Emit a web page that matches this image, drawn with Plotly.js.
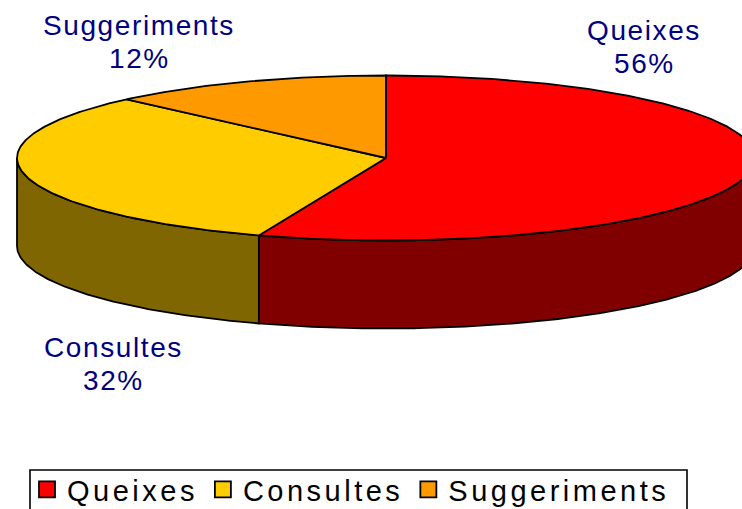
<!DOCTYPE html>
<html><head><meta charset="utf-8">
<script src="https://cdn.plot.ly/plotly-3.0.1.min.js"></script>
<style>
html,body{margin:0;padding:0;background:#fff;overflow:hidden}
#c{width:742px;height:509px}
.legendtext{letter-spacing:3.5px}
.annotation-text{letter-spacing:1.6px}
</style></head><body><div id="c"></div>
<script>
const categories = ['Queixes','Consultes','Suggeriments'];
const values = [55.6, 32.0, 12.4];
const topColors = ['#FF0000','#FFCC00','#FF9900'];
const sideColors = ['#800000','#806600','#804D00'];
const labelX = [644,113,139];
const nameY = [30,347,25];
const pctY = [63,380,58];

const cx=386, cy=158, rx=369, ry=82.5, depth=88;
const total = values.reduce((a,b)=>a+b,0);
const px = t => cx + rx*Math.sin(t);
const py = t => cy - ry*Math.cos(t);
function arc(a,b){const n=Math.max(2,Math.ceil((b-a)/0.01));const r=[];for(let i=0;i<=n;i++)r.push(a+(b-a)*i/n);return r;}
const line={color:'#000',width:1.8};
const traces=[];
let start=0;
const spans=values.map(v=>{const a=start;start+=v/total*2*Math.PI;return [a,start];});
spans.forEach(([a,b],i)=>{
  const lo=Math.max(a,Math.PI/2), hi=Math.min(b,3*Math.PI/2);
  if(hi<=lo) return;
  const t=arc(lo,hi);
  traces.push({x:t.map(px).concat(t.slice().reverse().map(px),[px(t[0])]),
    y:t.map(py).concat(t.slice().reverse().map(v=>py(v)+depth),[py(t[0])]),
    mode:'lines',fill:'toself',fillcolor:sideColors[i],line:line,showlegend:false,hoverinfo:'skip'});
});
spans.forEach(([a,b],i)=>{
  const t=arc(a,b);
  traces.push({x:[cx].concat(t.map(px),[cx]),y:[cy].concat(t.map(py),[cy]),
    mode:'lines',fill:'toself',fillcolor:topColors[i],line:line,showlegend:false,name:categories[i],hoverinfo:'name'});
});
categories.forEach((c,i)=>traces.push({x:[null],y:[null],mode:'markers',name:c,showlegend:true,
  marker:{symbol:'square',size:16,color:topColors[i],line:{color:'#000',width:1.8}}}));
const labelFont={family:'Liberation Sans, Arial, sans-serif',size:28,color:'#000080'};
const annotations=[];
categories.forEach((c,i)=>{
  annotations.push({xref:'x',yref:'y',x:labelX[i],y:nameY[i],showarrow:false,text:c,font:labelFont});
  annotations.push({xref:'x',yref:'y',x:labelX[i],y:pctY[i],showarrow:false,text:Math.round(values[i]/total*100)+'%',font:labelFont});
});
Plotly.newPlot('c',traces,{
  width:742,height:509,margin:{l:0,r:0,t:0,b:0,autoexpand:false},paper_bgcolor:'#fff',plot_bgcolor:'#fff',
  xaxis:{visible:false,range:[0,742],fixedrange:true},
  yaxis:{visible:false,range:[509,0],fixedrange:true},
  annotations:annotations,
  shapes:[{type:'rect',xref:'x',yref:'y',x0:30,x1:687,y0:470,y1:516,line:{color:'#000',width:1.6},fillcolor:'rgba(0,0,0,0)',layer:'below'}],
  legend:{orientation:'h',x:27/742,xanchor:'left',y:1-464/509,yanchor:'top',bgcolor:'rgba(0,0,0,0)',borderwidth:0,
    traceorder:'normal',font:{family:'Liberation Sans, Arial, sans-serif',size:29,color:'#000'}}
},{displayModeBar:false,staticPlot:true});
</script></body></html>
